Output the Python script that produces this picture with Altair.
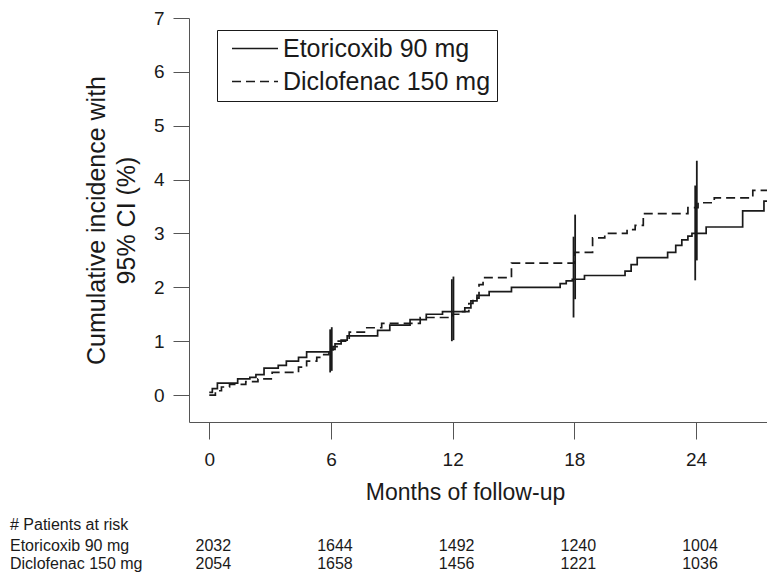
import altair as alt
import pandas as pd

# ---------------- data ----------------
groups = ["Etoricoxib 90 mg", "Diclofenac 150 mg"]

eto_month = [0, 0.15, 0.4, 1.4, 2.0, 2.3, 2.7, 3.4, 3.8, 4.4, 4.8, 6.0, 6.2, 6.5, 6.8,
             8.3, 8.9, 9.9, 10.7, 11.5, 12.6, 12.9, 13.2, 13.8, 14.9, 17.3, 17.6, 17.9,
             18.5, 20.5, 20.8, 21.1, 22.6, 23.0, 23.3, 23.6, 23.8, 24.5, 26.3, 27.35, 28]
eto_value = [0.05, 0.12, 0.22, 0.3, 0.33, 0.38, 0.5, 0.55, 0.63, 0.7, 0.8, 0.85, 0.95, 1.02, 1.1,
             1.2, 1.3, 1.4, 1.5, 1.55, 1.62, 1.75, 1.85, 1.92, 2.0, 2.07, 2.12, 2.15,
             2.22, 2.3, 2.42, 2.55, 2.65, 2.78, 2.88, 2.95, 3.0, 3.12, 3.42, 3.6, 3.6]

dic_month = [0, 0.3, 0.6, 1.0, 1.8, 2.4, 3.1, 4.4, 4.8, 5.3, 5.6, 5.9, 6.1, 6.3, 6.9, 7.7,
             8.5, 10.4, 12.0, 12.4, 12.8, 13.0, 13.3, 13.5, 14.9, 18.0, 18.9, 19.5, 20.6,
             21.0, 21.4, 23.6, 24.1, 24.9, 26.8, 28]
dic_value = [0.0, 0.08, 0.15, 0.2, 0.25, 0.3, 0.42, 0.52, 0.63, 0.7, 0.75, 0.8, 0.9, 1.0, 1.17, 1.25,
             1.33, 1.44, 1.5, 1.55, 1.7, 1.8, 2.05, 2.18, 2.45, 2.65, 2.92, 3.0, 3.07,
             3.15, 3.37, 3.48, 3.57, 3.66, 3.8, 3.8]

ci_month = [6, 12, 18, 24]
eto_lo = [0.42, 1.0, 1.44, 2.13]
eto_hi = [1.22, 2.15, 2.94, 3.89]
dic_lo = [0.45, 1.02, 1.78, 2.5]
dic_hi = [1.26, 2.2, 3.35, 4.35]

risk_month = [0, 6, 12, 18, 24]
risk_eto = [2032, 1644, 1492, 1240, 1004]
risk_dic = [2054, 1658, 1456, 1221, 1036]
risk_header = "# Patients at risk"

x_ticks = [0, 6, 12, 18, 24]
y_ticks = [0, 1, 2, 3, 4, 5, 6, 7]

# ---------------- tables ----------------
curves = pd.concat([
    pd.DataFrame({"month": eto_month, "value": eto_value, "group": groups[0]}),
    pd.DataFrame({"month": dic_month, "value": dic_value, "group": groups[1]}),
])
ci_eto = pd.DataFrame({"month": ci_month, "lo": eto_lo, "hi": eto_hi})
ci_dic = pd.DataFrame({"month": ci_month, "lo": dic_lo, "hi": dic_hi})
risk_e = pd.DataFrame({"month": risk_month, "n": risk_eto})
risk_d = pd.DataFrame({"month": risk_month, "n": risk_dic})

FONT = "Liberation Sans, Arial, Helvetica, sans-serif"
INK = "#1a1a1a"
W, H = 578, 404

xscale = alt.Scale(domain=[-1, 27.5], nice=False, zero=False)
yscale = alt.Scale(domain=[-0.5, 7], nice=False, zero=False)

x_enc = alt.X("month:Q", scale=xscale, axis=alt.Axis(
    values=x_ticks, format="d", title="Months of follow-up", grid=False, tickSize=17,
    labelFontSize=19, labelPadding=11, titleFontSize=23, titleFontWeight="normal",
    titlePadding=12, titleX=276, labelFont=FONT, titleFont=FONT,
    domainColor="#555", tickColor="#555", labelColor=INK, titleColor=INK,
    labelFlush=False))
y_enc = alt.Y("value:Q", scale=yscale, axis=alt.Axis(
    values=y_ticks, format="d", title=["Cumulative incidence with", "95% CI (%)"], grid=False,
    tickSize=16, labelFontSize=19, labelPadding=9, titleFontSize=25,
    titleFontWeight="normal", titlePadding=14, titleLineHeight=30,
    labelFont=FONT, titleFont=FONT, domainColor="#555", tickColor="#555",
    labelColor=INK, titleColor=INK, labelFlush=False))

lines = alt.Chart(curves).mark_line(
    interpolate="step-after", clip=True, strokeWidth=1.7, color=INK
).encode(
    x=x_enc, y=y_enc,
    strokeDash=alt.StrokeDash("group:N", scale=alt.Scale(domain=groups, range=[[1, 0], [9, 5]]),
        legend=alt.Legend(
            orient="none", legendX=28, legendY=12, title=None,
            symbolType="M-0.583,0H7.083", symbolSize=144, symbolStrokeWidth=1.7,
            symbolStrokeColor=INK, symbolOffset=0, labelOffset=35,
            labelFontSize=25, labelFont=FONT, labelColor=INK, labelLimit=400,
            labelExpr="datum.label + '     '",
            padding=6, rowPadding=7, strokeColor=INK, fillColor="white")),
    order="month:Q",
)

ci1 = alt.Chart(ci_eto).mark_rule(color=INK, strokeWidth=1.8, xOffset=-0.8).encode(
    x=alt.X("month:Q", scale=xscale), y=alt.Y("lo:Q", scale=yscale), y2="hi:Q")
ci2 = alt.Chart(ci_dic).mark_rule(color=INK, strokeWidth=1.8, xOffset=0.8).encode(
    x=alt.X("month:Q", scale=xscale), y=alt.Y("lo:Q", scale=yscale), y2="hi:Q")

TXT = dict(font=FONT, fontSize=16, color=INK, baseline="middle")
row_h = H + 103
row_e = H + 124
row_d = H + 142

header = alt.Chart(pd.DataFrame({"t": [risk_header]})).mark_text(align="left", **TXT).encode(
    x=alt.value(-179), y=alt.value(row_h), text="t:N")
lab_e = alt.Chart(pd.DataFrame({"t": [groups[0]]})).mark_text(align="left", **TXT).encode(
    x=alt.value(-179), y=alt.value(row_e), text="t:N")
lab_d = alt.Chart(pd.DataFrame({"t": [groups[1]]})).mark_text(align="left", **TXT).encode(
    x=alt.value(-179), y=alt.value(row_d), text="t:N")
num_e = alt.Chart(risk_e).mark_text(align="center", dx=4, **TXT).encode(
    x=alt.X("month:Q", scale=xscale), y=alt.value(row_e), text="n:Q")
num_d = alt.Chart(risk_d).mark_text(align="center", dx=4, **TXT).encode(
    x=alt.X("month:Q", scale=xscale), y=alt.value(row_d), text="n:Q")

chart = alt.layer(lines, ci1, ci2, header, lab_e, lab_d, num_e, num_d).properties(
    width=W, height=H,
    padding={"left": 2, "top": 1, "right": 0, "bottom": 0},
    background="white",
).configure_view(stroke=None)

chart.save("out.html", embed_options={"renderer": "svg", "actions": False})
